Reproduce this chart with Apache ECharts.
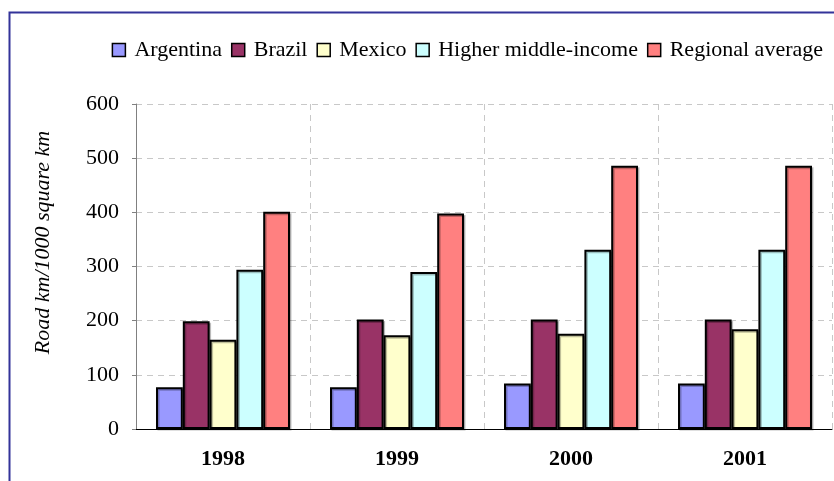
<!DOCTYPE html>
<html>
<head>
<meta charset="utf-8">
<script src="https://cdn.jsdelivr.net/npm/echarts@6/dist/echarts.min.js"></script>
<style>
  html, body { margin: 0; padding: 0; background: #fff; }
  #chart { width: 834px; height: 481px; }
</style>
</head>
<body>
<div id="chart"></div>
<script>
// Road density (road km per 1000 square km), 1998-2001
const years = ['1998', '1999', '2000', '2001'];
const argentina = [77, 77, 84, 84];
const brazil = [199, 202, 202, 202];
const mexico = [165, 173, 176, 184];
const higherMiddleIncome = [294, 290, 331, 331];
const regionalAverage = [401, 398, 486, 486];
const yTicks = [0, 100, 200, 300, 400, 500, 600];

const seriesDefs = [
  { name: 'Argentina', data: argentina, color: '#9999FF' },
  { name: 'Brazil', data: brazil, color: '#993366' },
  { name: 'Mexico', data: mexico, color: '#FFFFCC' },
  { name: 'Higher middle-income', data: higherMiddleIncome, color: '#CCFFFF' },
  { name: 'Regional average', data: regionalAverage, color: '#FF8080' }
];

const serif = '"Liberation Serif", "Times New Roman", serif';

const chart = echarts.init(document.getElementById('chart'), null, { renderer: 'canvas' });

chart.setOption({
  animation: false,
  backgroundColor: '#ffffff',
  graphic: [{
    type: 'rect',
    left: 7,
    top: 10,
    shape: { width: 900, height: 500 },
    style: { fill: 'none', stroke: '#333399', lineWidth: 2 },
    z: 100
  }],
  legend: {
    top: 34,
    right: 6,
    itemWidth: 13,
    itemHeight: 13,
    itemGap: 9,
    textStyle: { fontFamily: serif, fontSize: 22, color: '#000', padding: [0, 0, 0, 4] },
    data: seriesDefs.map(s => ({
      name: s.name,
      icon: 'rect',
      itemStyle: { color: s.color, borderColor: '#000', borderWidth: 1.5 }
    }))
  },
  grid: { left: 136, right: 2, top: 104, bottom: 52, containLabel: false },
  xAxis: {
    type: 'category',
    data: years,
    boundaryGap: true,
    axisLine: { lineStyle: { color: '#000', width: 1 } },
    axisTick: { show: false },
    axisLabel: { fontFamily: serif, fontSize: 22, fontWeight: 'bold', color: '#000', margin: 19 },
    splitLine: { show: true, lineStyle: { color: '#c8c8c8', type: [6, 5], width: 1 } }
  },
  yAxis: {
    type: 'value',
    min: yTicks[0],
    max: yTicks[yTicks.length - 1],
    interval: 100,
    name: 'Road km/1000 square km',
    nameLocation: 'middle',
    nameGap: 82,
    nameTextStyle: {
      fontFamily: serif, fontSize: 22, fontStyle: 'italic', color: '#000',
      padding: [0, 0, 0, 48]
    },
    axisLine: { show: true, lineStyle: { color: '#808080', width: 1 } },
    axisTick: { show: true, length: 4, lineStyle: { color: '#808080' } },
    axisLabel: { fontFamily: serif, fontSize: 22, color: '#000', margin: 17 },
    splitLine: { show: true, lineStyle: { color: '#c8c8c8', type: [6, 5], width: 1 } }
  },
  series: seriesDefs.map(s => ({
    name: s.name,
    type: 'bar',
    data: s.data,
    barGap: '0%',
    barCategoryGap: '23%',
    itemStyle: {
      color: s.color,
      borderColor: '#000',
      borderWidth: 2,
      shadowColor: 'rgba(0,0,0,0.25)',
      shadowOffsetX: 1.5,
      shadowOffsetY: 1.5
    }
  }))
});
</script>
</body>
</html>
